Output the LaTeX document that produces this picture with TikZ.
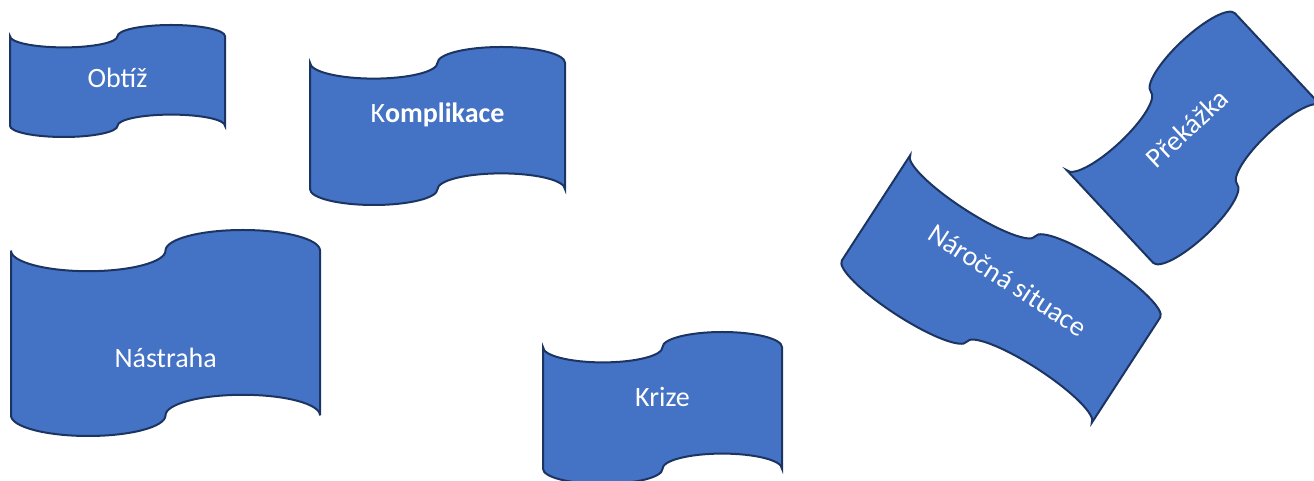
\documentclass[tikz,border=0pt]{standalone}
\usepackage{fontspec}
\setmainfont{Carlito}
\definecolor{tapefill}{HTML}{4472C4}
\definecolor{tapeline}{HTML}{1C3461}
\tikzset{
  tapestyle/.style={fill=tapefill,draw=tapeline,line width=2pt,line join=miter},
  tapetext/.style={text=white,font=\fontsize{28}{30}\selectfont,inner sep=0pt}
}
% #1 cx, #2 cy (y up), #3 w, #4 h, #5 rotation
\newcommand\tapeshape[5]{%
  \begin{scope}[shift={(#1,#2)},rotate=#5]
    \draw[tapestyle] (-#3/2,#4/2-#4/10)
      arc[start angle=180,end angle=360,x radius=#3/4,y radius=#4/10]
      arc[start angle=180,end angle=0,x radius=#3/4,y radius=#4/10]
      -- (#3/2,-#4/2+#4/10)
      arc[start angle=0,end angle=180,x radius=#3/4,y radius=#4/10]
      arc[start angle=0,end angle=-180,x radius=#3/4,y radius=#4/10]
      -- cycle;
  \end{scope}}
\begin{document}
\begin{tikzpicture}[x=1pt,y=1pt]
\useasboundingbox (0,0) rectangle (1314,481);
% Obtíž
\tapeshape{117.5}{400}{215}{112}{0}
\node[tapetext,anchor=base] (obtiz) at (117.5,393) {Obtíž};
% Komplikace
\tapeshape{437.5}{355}{255}{158}{0}
\node[tapetext,anchor=base] (kompl) at (437.5,358) {K\textbf{omplikace}};
% Nástraha
\tapeshape{165.5}{148}{309}{206}{0}
\node[tapetext,anchor=base] (nastraha) at (165.7,113.3) {Nástraha};
% Krize
\tapeshape{662.5}{73}{239}{152}{0}
\node[tapetext,anchor=base] (krize) at (662.5,74.3) {Krize};
% Překážka
\tapeshape{1194}{343}{230}{158}{43}
\node[tapetext,rotate=43] (prekazka) at (1186.7,352.7) {Překážka};
% Náročná situace
\tapeshape{1001}{192}{298}{157}{-33}
\node[tapetext,rotate=-33] (narocna) at (1008,201) {Náročná situace};
\end{tikzpicture}
\end{document}
